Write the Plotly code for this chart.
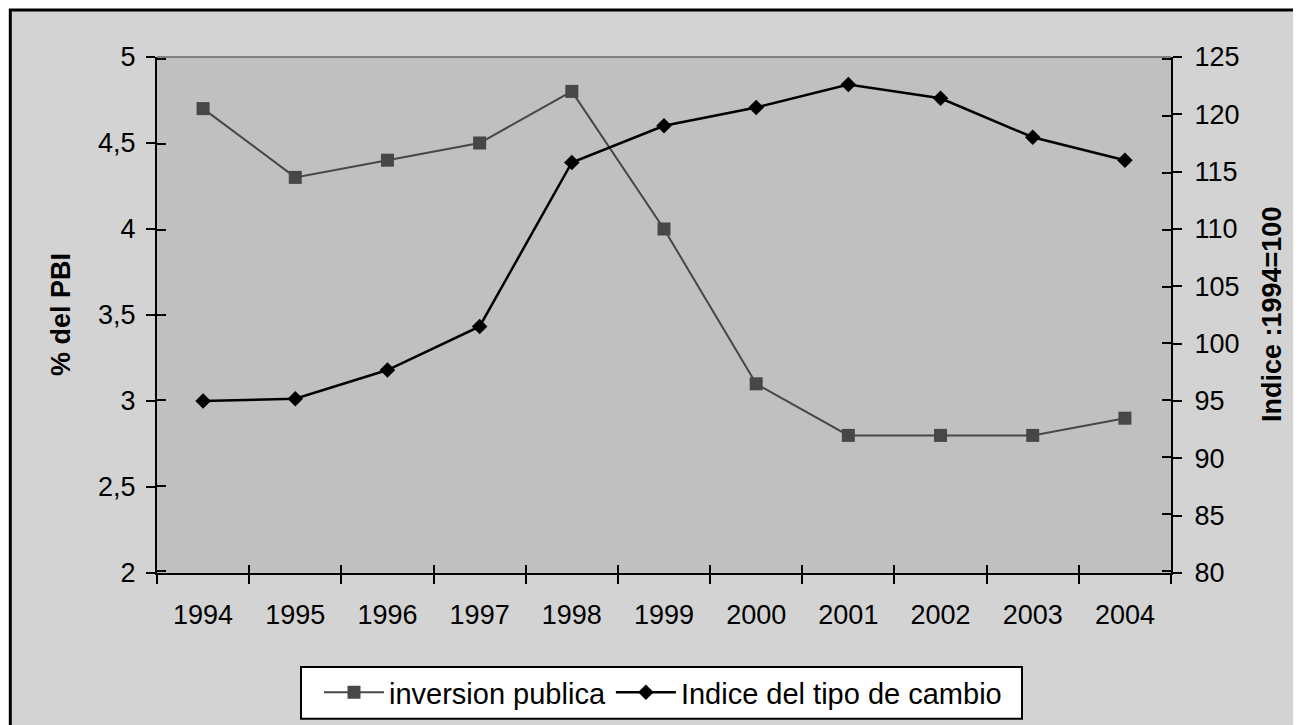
import plotly.graph_objects as go

years = ["1994", "1995", "1996", "1997", "1998", "1999", "2000", "2001", "2002", "2003", "2004"]
inversion_publica = [4.7, 4.3, 4.4, 4.5, 4.8, 4.0, 3.1, 2.8, 2.8, 2.8, 2.9]
indice_tipo_cambio = [95.0, 95.2, 97.7, 101.5, 115.8, 119.0, 120.6, 122.6, 121.4, 118.0, 116.0]

left_tickvals = [2, 2.5, 3, 3.5, 4, 4.5, 5]
left_ticktext = ["2", "2,5", "3", "3,5", "4", "4,5", "5"]
right_tickvals = [80, 85, 90, 95, 100, 105, 110, 115, 120, 125]

FONT = "Liberation Sans, Arial, sans-serif"
W, H = 1301, 725
OFF = 8  # page body margin offset (screen = figure + OFF)
L, R, T, B = 157 - OFF, W - (1171 - OFF), 56.5 - OFF, H - (573 - OFF)
pw, ph = W - L - R, H - T - B

def px_x(p):
    return (p - OFF - L) / pw

def px_y(p):
    return 1 - (p - OFF - T) / ph

# tiny padding on the inside-tick overlay axes so the end ticks are not clipped
eps_l = 1.6 * (5 - 2) / ph
eps_r = 1.6 * (125 - 80) / ph

fig = go.Figure()

fig.add_trace(go.Scatter(
    x=years, y=inversion_publica, name="inversion publica",
    mode="lines+markers", xaxis="x", yaxis="y",
    line=dict(color="#474747", width=2),
    marker=dict(symbol="square", size=13, color="#474747"),
))
fig.add_trace(go.Scatter(
    x=years, y=indice_tipo_cambio, name="Indice del tipo de cambio",
    mode="lines+markers", xaxis="x", yaxis="y2",
    line=dict(color="#000000", width=2.5),
    marker=dict(symbol="diamond", size=12, color="#000000"),
))
# helper traces so overlay axes (inside tick marks) are drawn
fig.add_trace(go.Scatter(x=years, y=[None] * len(years), xaxis="x2", yaxis="y3",
                         showlegend=False, hoverinfo="skip", mode="lines"))
fig.add_trace(go.Scatter(x=years, y=[None] * len(years), xaxis="x", yaxis="y4",
                         showlegend=False, hoverinfo="skip", mode="lines"))

tickfont = dict(family=FONT, size=27, color="#000000")

fig.update_layout(
    width=W, height=H,
    margin=dict(l=L, r=R, t=T, b=B, pad=0),
    paper_bgcolor="#FFFFFF",
    plot_bgcolor="rgba(0,0,0,0)",
    separators=",.",
    font=dict(family=FONT, size=27, color="#000000"),
    xaxis=dict(
        type="category", categoryorder="array", categoryarray=years,
        range=[-0.5, len(years) - 0.5], tickson="boundaries",
        ticks="outside", ticklen=9, tickwidth=2, tickcolor="#000000",
        showline=True, linecolor="#000000", linewidth=2,
        showgrid=False, zeroline=False, tickfont=tickfont,
        ticklabelstandoff=17,
    ),
    xaxis2=dict(
        type="category", categoryorder="array", categoryarray=years,
        overlaying="x", anchor="y", side="bottom",
        range=[-0.5, len(years) - 0.5], tickson="boundaries",
        ticks="inside", ticklen=8, tickwidth=2, tickcolor="#000000",
        showticklabels=False, showline=False, showgrid=False, zeroline=False,
    ),
    yaxis=dict(
        range=[2, 5], tickvals=left_tickvals, ticktext=left_ticktext,
        ticks="outside", ticklen=9, tickwidth=2, tickcolor="#000000",
        showline=True, linecolor="#000000", linewidth=2,
        showgrid=False, zeroline=False, tickfont=tickfont,
        ticklabelstandoff=5,
    ),
    yaxis2=dict(
        range=[80, 125], tickvals=right_tickvals,
        overlaying="y", side="right", anchor="x",
        ticks="outside", ticklen=9, tickwidth=2, tickcolor="#000000",
        showline=True, linecolor="#000000", linewidth=2,
        showgrid=False, zeroline=False, tickfont=tickfont,
        ticklabelstandoff=7,
    ),
    yaxis3=dict(
        range=[2 - eps_l, 5 + eps_l], tickvals=left_tickvals, overlaying="y", side="left", anchor="x2",
        ticks="inside", ticklen=9, tickwidth=2, tickcolor="#000000",
        showticklabels=False, showline=False, showgrid=False, zeroline=False,
    ),
    yaxis4=dict(
        range=[80 - eps_r, 125 + eps_r], tickvals=right_tickvals, overlaying="y", side="right", anchor="x",
        ticks="inside", ticklen=9, tickwidth=2, tickcolor="#000000",
        showticklabels=False, showline=False, showgrid=False, zeroline=False,
    ),
    legend=dict(
        orientation="h", x=px_x(663), xanchor="center", y=px_y(667), yanchor="top",
        bgcolor="rgba(0,0,0,0)", borderwidth=0,
        font=dict(family=FONT, size=29, color="#000000"),
        itemwidth=60,
    ),
    shapes=[
        dict(type="rect", xref="paper", yref="paper", layer="below",
             x0=px_x(10.3), x1=px_x(1330), y0=px_y(750), y1=px_y(9.5),
             fillcolor="#D3D3D3", line=dict(color="#000000", width=3)),
        dict(type="rect", xref="paper", yref="paper", layer="below",
             x0=0, x1=1, y0=0, y1=1, fillcolor="#C0C0C0", line=dict(width=0)),
        dict(type="line", xref="paper", yref="paper", layer="below",
             x0=0, x1=1, y0=1, y1=1, line=dict(color="#808080", width=2)),
        dict(type="rect", xref="paper", yref="paper", layer="below",
             x0=px_x(301), x1=px_x(1022), y0=px_y(719), y1=px_y(667),
             fillcolor="#FFFFFF", line=dict(color="#000000", width=2)),
    ],
    annotations=[
        dict(text="<b>% del PBI</b>", xref="paper", yref="paper",
             x=px_x(61), y=0.5, xanchor="center", yanchor="middle",
             textangle=-90, showarrow=False,
             font=dict(family=FONT, size=27, color="#000000")),
        dict(text="<b>Indice :1994=100</b>", xref="paper", yref="paper",
             x=px_x(1272), y=0.5, xanchor="center", yanchor="middle",
             textangle=-90, showarrow=False,
             font=dict(family=FONT, size=27, color="#000000")),
    ],
    showlegend=True,
)

fig.write_html("out.html")
